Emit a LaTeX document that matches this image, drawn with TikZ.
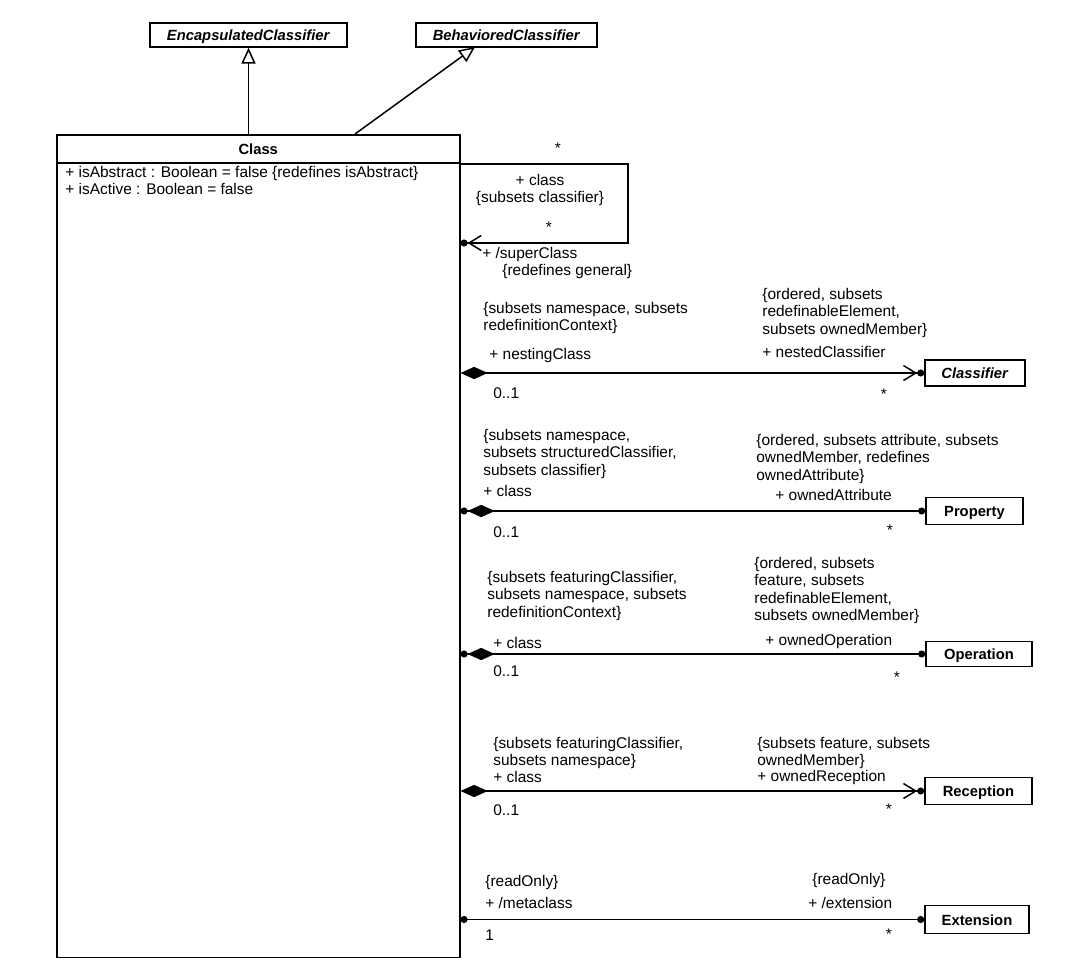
\documentclass[tikz,border=0pt]{standalone}
\usepackage{fontspec}
\setmainfont{Liberation Sans}
\usetikzlibrary{arrows.meta,positioning,calc}
\newcommand{\umlfont}{\fontsize{8.8}{9.9}\selectfont}
\newcommand{\umlnamefont}{\fontsize{8.4}{9.9}\selectfont\bfseries}

\begin{document}
\begin{tikzpicture}[
x=0.02cm, y=-0.02cm,
classbox/.style={draw, line width=0.9pt, inner sep=0pt, text height=1.55ex, text depth=0.3ex, font=\umlnamefont},
assoc/.style={line width=0.85pt},
lbl/.style={inner sep=0pt, align=left, font=\umlfont},
umldot/.tip={Circle[length=4pt]},
umldiamond/.tip={Diamond[length=15.5pt, width=7pt]},
umlnav/.tip={Straight Barb[length=7pt, width=8.5pt, line width=0.85pt]},
umlgen/.tip={Triangle[open, length=9pt, width=8pt, line width=0.85pt]},
]
\useasboundingbox (0,0) rectangle (1080,978);

% superclasses
\node[classbox, minimum width=3.94cm, minimum height=0.48cm] (encap) at (248.5,35) {\textit{EncapsulatedClassifier}};
\node[classbox, minimum width=3.62cm, minimum height=0.48cm] (behav) at (506.5,35) {\textit{BehavioredClassifier}};

% the Class itself
\node[classbox, anchor=north west, minimum width=8.06cm, minimum height=16.46cm] (class) at (56,134) {};
\node[classbox, anchor=north west, minimum width=8.06cm, minimum height=0.56cm] (classname) at (class.north west) {Class};
\node[lbl, anchor=north west] (attrs) at (65,166) {+ isAbstract : Boolean = false \{redefines isAbstract\}\\+ isActive : Boolean = false};

\coordinate (clsgen) at (355,134);
\coordinate (behavgen) at (475,47);
\draw[assoc, -{umlgen[]}] (class.north -| encap) -- (encap);
\draw[assoc, -{umlgen[]}] (clsgen) -- (behavgen);

% associated classes
\node[classbox, minimum width=2cm, minimum height=0.52cm] (classifier) at (975,373) {\textit{Classifier}};
\node[classbox, minimum width=1.94cm, minimum height=0.54cm] (property) at (974.5,511) {Property};
\node[classbox, minimum width=2.12cm, minimum height=0.5cm] (operation) at (979,654) {Operation};
\node[classbox, minimum width=2.14cm, minimum height=0.54cm] (reception) at (978.5,791) {Reception};
\node[classbox, minimum width=2.08cm, minimum height=0.56cm] (extension) at (977,919.5) {Extension};

% superClass
\coordinate (loopa) at (628,164);
\coordinate (loopb) at (628,243);
\draw[assoc, -{umlnav[] umldot[]}] (class.east |- loopa) -- (loopa) -- (loopb) -- (class.east |- loopb);
\node[lbl] (selfstar) at (558,148) {*};
\node[lbl, align=center, anchor=north] (selfrole) at (540,174) {+ class\\\{subsets classifier\}};
\node[lbl] (selfstarb) at (549,227) {*};
\node[lbl, anchor=west] (superrole) at (482,254) {+ /superClass};
\node[lbl, anchor=west] (supercons) at (502,271) {\{redefines general\}};

% nestedClassifier
\draw[assoc, {umldiamond[]}-{umlnav[] umldot[]}] (class.east |- classifier) -- (classifier);
\node[lbl, anchor=north west] (nestcons) at (483,302) {\{subsets namespace, subsets\\redefinitionContext\}};
\node[lbl, anchor=west] (nestrole) at (489,355) {+ nestingClass};
\node[lbl, anchor=west] (nestmult) at (493,393) {0..1};
\node[lbl, anchor=north west] (nestedcons) at (762,288) {\{ordered, subsets\\redefinableElement,\\subsets ownedMember\}};
\node[lbl, anchor=west] (nestedrole) at (762,352) {+ nestedClassifier};
\node[lbl] (nestedmult) at (884,394) {*};

% ownedAttribute
\draw[assoc, {umldot[] umldiamond[]}-{umldot[]}] (class.east |- property) -- (property);
\node[lbl, anchor=north west] (propcons) at (483,429) {\{subsets namespace,\\subsets structuredClassifier,\\subsets classifier\}};
\node[lbl, anchor=west] (proprole) at (483,491) {+ class};
\node[lbl, anchor=west] (propmult) at (493,532) {0..1};
\node[lbl, anchor=north west] (attrcons) at (756,434) {\{ordered, subsets attribute, subsets\\ownedMember, redefines\\ownedAttribute\}};
\node[lbl, anchor=west] (attrrole) at (775,495) {+ ownedAttribute};
\node[lbl] (attrmult) at (890,530) {*};

% ownedOperation
\draw[assoc, {umldot[] umldiamond[]}-{umldot[]}] (class.east |- operation) -- (operation);
\node[lbl, anchor=north west] (opcons) at (487,571) {\{subsets featuringClassifier,\\subsets namespace, subsets\\redefinitionContext\}};
\node[lbl, anchor=west] (oprole) at (493,643) {+ class};
\node[lbl, anchor=west] (opmult) at (493,671) {0..1};
\node[lbl, anchor=north west] (ownopcons) at (754,557) {\{ordered, subsets\\feature, subsets\\redefinableElement,\\subsets ownedMember\}};
\node[lbl, anchor=west] (ownoprole) at (765,641) {+ ownedOperation};
\node[lbl] (ownopmult) at (897,677) {*};

% ownedReception
\draw[assoc, {umldiamond[]}-{umlnav[] umldot[]}] (class.east |- reception) -- (reception);
\node[lbl, anchor=north west] (reccons) at (493,737) {\{subsets featuringClassifier,\\subsets namespace\}};
\node[lbl, anchor=west] (recrole) at (493,777) {+ class};
\node[lbl, anchor=west] (recmult) at (493,810) {0..1};
\node[lbl, anchor=north west] (ownreccons) at (757,737) {\{subsets feature, subsets\\ownedMember\}};
\node[lbl, anchor=west] (ownrecrole) at (757,777) {+ ownedReception};
\node[lbl] (ownrecmult) at (889,809) {*};

% extension
\draw[assoc, {umldot[]}-{umldot[]}] (class.east |- extension) -- (extension);
\node[lbl, anchor=west] (metacons) at (485,882) {\{readOnly\}};
\node[lbl, anchor=west] (metarole) at (485,903) {+ /metaclass};
\node[lbl, anchor=west] (metamult) at (485,935) {1};
\node[lbl, anchor=west] (extcons) at (812,880) {\{readOnly\}};
\node[lbl, anchor=west] (extrole) at (808,903) {+ /extension};
\node[lbl] (extmult) at (889,934) {*};

\end{tikzpicture}
\end{document}
